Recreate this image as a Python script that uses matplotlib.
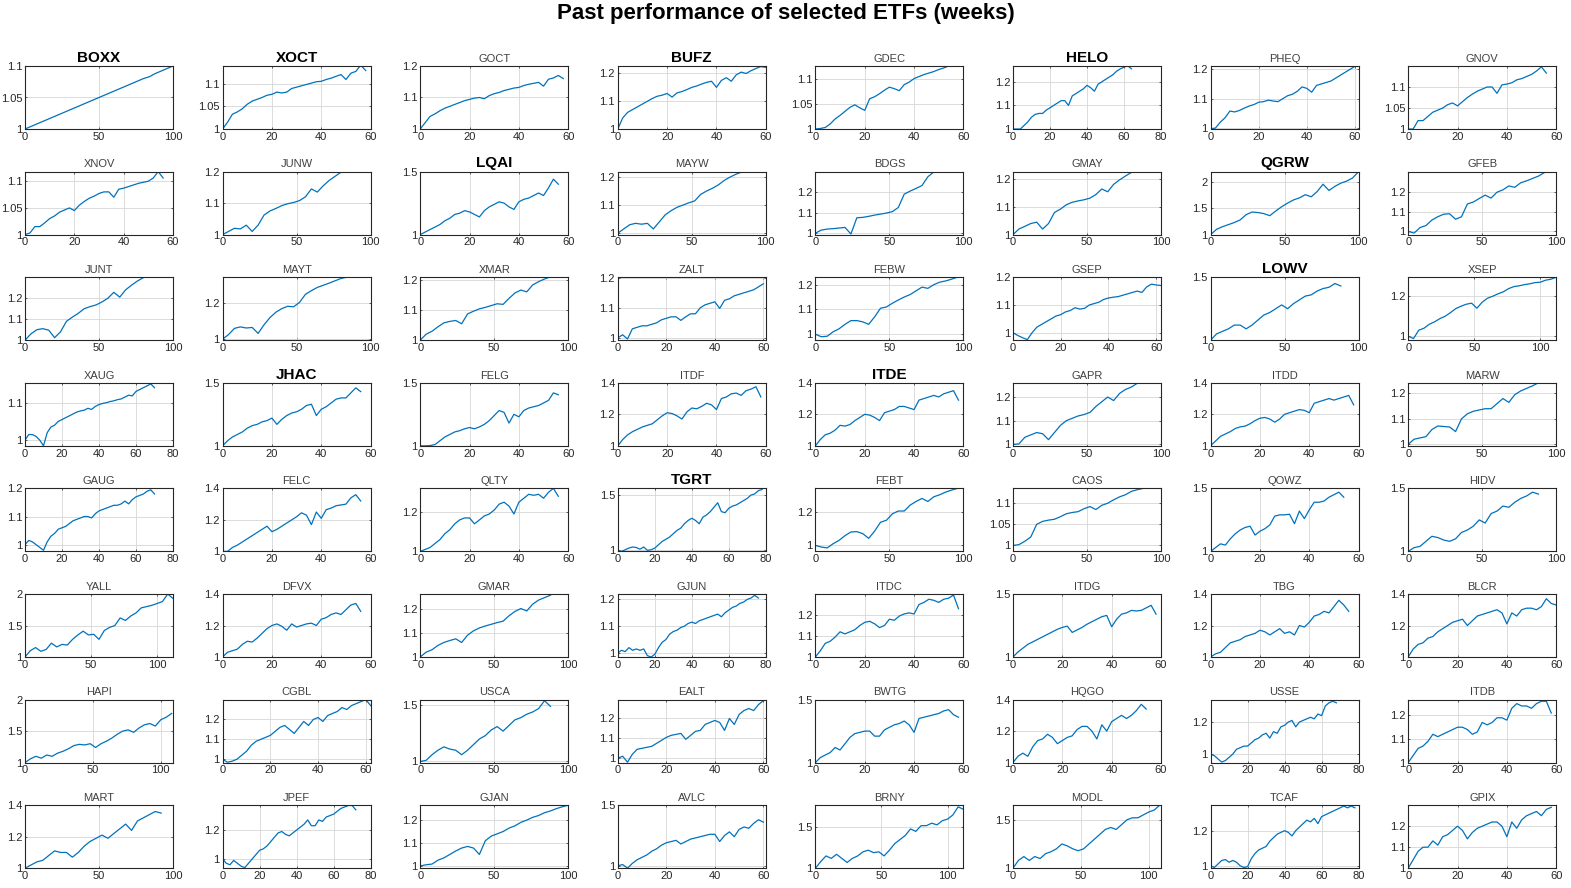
import numpy as np
import matplotlib
matplotlib.use("Agg")
import matplotlib.pyplot as plt
from matplotlib.ticker import FormatStrFormatter

# Weekly growth of 1 unit invested at every `step` weeks
boxx = [1.000, 1.004, 1.008, 1.012, 1.016, 1.020, 1.024, 1.028, 1.032, 1.036, 1.040, 1.044, 1.048,
        1.052, 1.056, 1.060, 1.064, 1.068, 1.072, 1.076, 1.080, 1.083, 1.088, 1.092, 1.096, 1.100]
xoct = [1.000, 1.015, 1.033, 1.038, 1.045, 1.055, 1.062, 1.066, 1.070, 1.075, 1.077, 1.082, 1.080, 1.082, 1.090,
        1.093, 1.096, 1.099, 1.102, 1.105, 1.106, 1.110, 1.113, 1.117, 1.121, 1.110, 1.124, 1.128, 1.142, 1.130]
goct = [1.000, 1.020, 1.040, 1.048, 1.058, 1.066, 1.072, 1.078, 1.084, 1.090, 1.094, 1.098, 1.100, 1.096, 1.106,
        1.112, 1.116, 1.122, 1.126, 1.130, 1.132, 1.138, 1.142, 1.145, 1.148, 1.136, 1.158, 1.162, 1.170, 1.160]
bufz = [1.000, 1.040, 1.060, 1.070, 1.080, 1.090, 1.100, 1.110, 1.118, 1.122, 1.128, 1.115, 1.130, 1.135, 1.142, 1.150,
        1.155, 1.162, 1.168, 1.172, 1.150, 1.175, 1.185, 1.172, 1.195, 1.205, 1.200, 1.210, 1.218, 1.225, 1.222]
gdec = [1.000, 1.001, 1.003, 1.010, 1.020, 1.027, 1.035, 1.043, 1.048, 1.042, 1.037, 1.060, 1.064, 1.070,
        1.077, 1.083, 1.080, 1.076, 1.088, 1.093, 1.100, 1.104, 1.108, 1.111, 1.114, 1.118, 1.121, 1.125]
helo = [1.000, 1.000, 1.000, 1.015, 1.030, 1.050, 1.062, 1.066, 1.066, 1.080, 1.090, 1.100, 1.110, 1.120, 1.120, 1.100, 1.140,
        1.150, 1.160, 1.170, 1.185, 1.175, 1.160, 1.190, 1.200, 1.210, 1.220, 1.230, 1.245, 1.255, 1.262, 1.268, 1.255]
pheq = [0.998, 1.000, 1.020, 1.035, 1.058, 1.055, 1.060, 1.068, 1.075, 1.080, 1.088, 1.090, 1.095, 1.092, 1.090, 1.100,
        1.110, 1.115, 1.125, 1.140, 1.135, 1.122, 1.145, 1.150, 1.155, 1.160, 1.170, 1.180, 1.190, 1.200, 1.210]
gnov = [1.000, 1.000, 1.020, 1.020, 1.030, 1.040, 1.045, 1.050, 1.058, 1.062, 1.055, 1.065, 1.075, 1.083, 1.090,
        1.095, 1.100, 1.100, 1.085, 1.105, 1.107, 1.110, 1.117, 1.120, 1.125, 1.130, 1.138, 1.148, 1.133]

xnov = [1.000, 1.003, 1.015, 1.015, 1.022, 1.030, 1.035, 1.042, 1.046, 1.050, 1.045, 1.055, 1.062, 1.068, 1.072,
        1.077, 1.080, 1.080, 1.070, 1.085, 1.087, 1.090, 1.093, 1.096, 1.098, 1.100, 1.106, 1.118, 1.106]
junw = [1.000, 1.010, 1.020, 1.018, 1.030, 1.010, 1.030, 1.062, 1.075, 1.083, 1.092, 1.098, 1.102, 1.108, 1.120,
        1.145, 1.135, 1.155, 1.172, 1.185, 1.198]
lqai = [1.00, 1.02, 1.04, 1.06, 1.08, 1.11, 1.13, 1.16, 1.17, 1.19, 1.18, 1.16, 1.14, 1.19, 1.22,
        1.24, 1.26, 1.25, 1.22, 1.20, 1.26, 1.28, 1.29, 1.31, 1.33, 1.31, 1.37, 1.44, 1.40]
mayw = [1.000, 1.015, 1.030, 1.035, 1.032, 1.035, 1.015, 1.040, 1.065, 1.080, 1.092, 1.100, 1.108, 1.115, 1.138,
        1.150, 1.160, 1.172, 1.188, 1.200, 1.210, 1.218]
bdgs = [1.000, 1.015, 1.020, 1.022, 1.025, 1.028, 0.996, 1.075, 1.077, 1.082, 1.088, 1.093, 1.098, 1.105, 1.125,
        1.190, 1.205, 1.218, 1.232, 1.275, 1.298]
gmay = [1.000, 1.020, 1.030, 1.040, 1.045, 1.020, 1.040, 1.080, 1.092, 1.108, 1.117, 1.122, 1.126, 1.132, 1.145,
        1.165, 1.155, 1.182, 1.198, 1.212, 1.225]
qgrw = [1.00, 1.10, 1.15, 1.19, 1.23, 1.28, 1.38, 1.43, 1.42, 1.40, 1.36, 1.45, 1.53, 1.60, 1.66, 1.70, 1.76,
        1.72, 1.82, 1.96, 1.84, 1.92, 1.98, 2.02, 2.08, 2.20]
gfeb = [1.000, 0.992, 1.020, 1.030, 1.058, 1.075, 1.088, 1.090, 1.062, 1.075, 1.140, 1.150, 1.168, 1.185, 1.170,
        1.200, 1.212, 1.232, 1.225, 1.248, 1.258, 1.270, 1.282, 1.300]

junt = [1.000, 1.030, 1.050, 1.055, 1.048, 1.012, 1.040, 1.090, 1.110, 1.128, 1.150, 1.160, 1.168, 1.182, 1.200,
        1.228, 1.205, 1.240, 1.262, 1.282, 1.298]
mayt = [1.000, 1.025, 1.060, 1.068, 1.062, 1.065, 1.032, 1.080, 1.120, 1.150, 1.170, 1.183, 1.180, 1.205, 1.250,
        1.270, 1.288, 1.300, 1.312, 1.325, 1.338, 1.345]
xmar = [1.000, 1.020, 1.030, 1.045, 1.058, 1.063, 1.066, 1.055, 1.088, 1.097, 1.105, 1.110, 1.116, 1.122, 1.120,
        1.140, 1.158, 1.168, 1.162, 1.185, 1.196, 1.205, 1.212]
zalt = [1.000, 1.010, 0.996, 1.030, 1.035, 1.040, 1.040, 1.045, 1.050, 1.060, 1.065, 1.070, 1.070, 1.058, 1.070, 1.080,
        1.080, 1.100, 1.110, 1.115, 1.120, 1.098, 1.125, 1.130, 1.140, 1.145, 1.150, 1.155, 1.160, 1.170, 1.180]
febw = [1.000, 0.990, 0.992, 1.010, 1.022, 1.040, 1.055, 1.055, 1.050, 1.040, 1.070, 1.105, 1.110, 1.125, 1.138,
        1.150, 1.160, 1.175, 1.190, 1.185, 1.200, 1.210, 1.215, 1.222, 1.230]
gsep = [1.000, 0.990, 0.982, 0.975, 1.000, 1.020, 1.030, 1.040, 1.050, 1.060, 1.065, 1.075, 1.080, 1.090, 1.085, 1.088,
        1.100, 1.105, 1.110, 1.120, 1.125, 1.128, 1.130, 1.135, 1.140, 1.145, 1.150, 1.145, 1.165, 1.175, 1.172, 1.170]
lowv = [1.00, 1.05, 1.07, 1.09, 1.12, 1.12, 1.09, 1.12, 1.16, 1.20, 1.22, 1.25, 1.28, 1.25, 1.29, 1.32,
        1.35, 1.36, 1.39, 1.41, 1.42, 1.45, 1.43]
xsep = [1.000, 0.988, 1.030, 1.040, 1.060, 1.072, 1.088, 1.100, 1.118, 1.138, 1.150, 1.160, 1.165, 1.140, 1.170,
        1.190, 1.200, 1.212, 1.222, 1.238, 1.248, 1.252, 1.258, 1.262, 1.268, 1.270, 1.280, 1.285, 1.295]

xaug = [1.000, 1.015, 1.015, 1.010, 1.000, 0.985, 1.020, 1.035, 1.040, 1.050, 1.055, 1.060, 1.065, 1.070, 1.075, 1.078,
        1.080, 1.085, 1.082, 1.090, 1.095, 1.098, 1.100, 1.103, 1.105, 1.108, 1.110, 1.115, 1.120, 1.118, 1.130,
        1.135, 1.140, 1.145, 1.150, 1.140]
jhac = [1.00, 1.04, 1.07, 1.09, 1.11, 1.14, 1.16, 1.17, 1.19, 1.20, 1.22, 1.17, 1.21, 1.24, 1.26,
        1.27, 1.29, 1.32, 1.33, 1.24, 1.29, 1.31, 1.34, 1.37, 1.38, 1.38, 1.42, 1.46, 1.43]
felg = [1.000, 1.000, 1.002, 1.010, 1.040, 1.070, 1.090, 1.110, 1.120, 1.135, 1.145, 1.135, 1.150, 1.170, 1.200,
        1.240, 1.280, 1.265, 1.180, 1.250, 1.230, 1.280, 1.300, 1.310, 1.320, 1.340, 1.360, 1.420, 1.405]
itdf = [1.000, 1.040, 1.070, 1.090, 1.105, 1.120, 1.130, 1.140, 1.165, 1.190, 1.210, 1.205, 1.190, 1.170, 1.215,
        1.240, 1.235, 1.250, 1.270, 1.260, 1.230, 1.300, 1.310, 1.330, 1.335, 1.320, 1.350, 1.360, 1.375, 1.310]
itde = [1.000, 1.040, 1.070, 1.080, 1.100, 1.130, 1.125, 1.135, 1.160, 1.180, 1.200, 1.195, 1.180, 1.160, 1.210,
        1.220, 1.230, 1.250, 1.250, 1.240, 1.230, 1.290, 1.300, 1.310, 1.320, 1.310, 1.330, 1.340, 1.350, 1.290]
gapr = [1.000, 1.002, 1.030, 1.040, 1.050, 1.045, 1.020, 1.050, 1.080, 1.100, 1.110, 1.120, 1.126, 1.135, 1.160,
        1.180, 1.200, 1.185, 1.215, 1.232, 1.242, 1.258]
itdd = [1.000, 1.030, 1.060, 1.075, 1.090, 1.110, 1.120, 1.125, 1.140, 1.160, 1.175, 1.180, 1.170, 1.150, 1.170,
        1.200, 1.210, 1.220, 1.230, 1.225, 1.210, 1.270, 1.280, 1.290, 1.300, 1.290, 1.300, 1.310, 1.320, 1.260]
marw = [1.000, 1.020, 1.025, 1.030, 1.058, 1.072, 1.070, 1.068, 1.050, 1.100, 1.120, 1.130, 1.135, 1.140, 1.140,
        1.160, 1.180, 1.165, 1.195, 1.210, 1.220, 1.230, 1.242]

gaug = [1.000, 1.015, 1.010, 1.000, 0.990, 0.980, 1.010, 1.030, 1.040, 1.055, 1.060, 1.065, 1.075, 1.085, 1.090, 1.095,
        1.100, 1.100, 1.095, 1.110, 1.120, 1.125, 1.130, 1.135, 1.140, 1.140, 1.145, 1.155, 1.145, 1.160, 1.170,
        1.175, 1.180, 1.190, 1.195, 1.180]
felc = [1.000, 1.000, 1.025, 1.040, 1.060, 1.080, 1.100, 1.120, 1.140, 1.160, 1.125, 1.140, 1.160, 1.180, 1.200,
        1.220, 1.245, 1.230, 1.170, 1.250, 1.210, 1.265, 1.275, 1.290, 1.295, 1.300, 1.340, 1.360, 1.320]
qlty = [1.000, 1.010, 1.020, 1.040, 1.060, 1.090, 1.110, 1.140, 1.160, 1.170, 1.170, 1.140, 1.160, 1.180, 1.190,
        1.210, 1.240, 1.250, 1.230, 1.190, 1.250, 1.270, 1.290, 1.285, 1.290, 1.270, 1.300, 1.320, 1.280]
tgrt = [1.000, 0.990, 1.005, 1.020, 1.030, 1.025, 1.010, 1.030, 1.000, 1.005, 1.020, 1.050, 1.080, 1.100, 1.120,
        1.150, 1.180, 1.200, 1.240, 1.270, 1.290, 1.270, 1.240, 1.300, 1.320, 1.350, 1.390, 1.430, 1.350, 1.340,
        1.380, 1.400, 1.410, 1.430, 1.450, 1.470, 1.500, 1.510, 1.540, 1.550]
febt = [1.000, 0.990, 0.985, 1.010, 1.030, 1.058, 1.080, 1.082, 1.070, 1.042, 1.085, 1.138, 1.150, 1.188, 1.205,
        1.205, 1.240, 1.262, 1.280, 1.262, 1.290, 1.302, 1.318, 1.330, 1.340]
caos = [1.000, 1.002, 1.010, 1.020, 1.050, 1.057, 1.060, 1.062, 1.068, 1.075, 1.078, 1.080, 1.087, 1.092, 1.085,
        1.095, 1.100, 1.108, 1.115, 1.120, 1.128, 1.132, 1.135]
qowz = [1.000, 1.030, 1.060, 1.050, 1.100, 1.140, 1.170, 1.190, 1.200, 1.130, 1.160, 1.180, 1.210, 1.280,
        1.290, 1.290, 1.295, 1.220, 1.320, 1.260, 1.330, 1.390, 1.390, 1.400, 1.430, 1.450, 1.470, 1.430]
hidv = [1.000, 1.030, 1.040, 1.080, 1.120, 1.110, 1.090, 1.080, 1.100, 1.150, 1.170, 1.200, 1.250, 1.225, 1.300,
        1.320, 1.360, 1.350, 1.390, 1.420, 1.440, 1.470, 1.455]

yall = [1.00, 1.10, 1.15, 1.09, 1.12, 1.22, 1.16, 1.20, 1.19, 1.28, 1.35, 1.41, 1.35, 1.36, 1.28, 1.42, 1.47,
        1.50, 1.62, 1.58, 1.65, 1.70, 1.78, 1.80, 1.82, 1.85, 1.88, 2.00, 1.93]
dfvx = [1.000, 1.030, 1.040, 1.050, 1.080, 1.100, 1.095, 1.120, 1.150, 1.180, 1.200, 1.210, 1.195, 1.170, 1.210,
        1.190, 1.200, 1.210, 1.215, 1.200, 1.240, 1.250, 1.270, 1.280, 1.270, 1.300, 1.330, 1.340, 1.290]
gmar = [1.000, 1.020, 1.030, 1.048, 1.060, 1.068, 1.075, 1.060, 1.090, 1.108, 1.120, 1.128, 1.135, 1.142, 1.148,
        1.170, 1.188, 1.200, 1.190, 1.218, 1.235, 1.245, 1.255]
gjun = [1.000, 1.010, 1.005, 1.020, 1.010, 1.015, 1.010, 1.015, 0.990, 0.985, 0.995, 1.020, 1.040, 1.050, 1.070, 1.080,
        1.085, 1.095, 1.100, 1.110, 1.115, 1.110, 1.120, 1.125, 1.130, 1.135, 1.140, 1.145, 1.135, 1.150, 1.160,
        1.170, 1.175, 1.185, 1.190, 1.200, 1.205, 1.215, 1.205]
itdc = [1.000, 1.030, 1.065, 1.075, 1.095, 1.120, 1.110, 1.120, 1.130, 1.150, 1.165, 1.170, 1.158, 1.140, 1.150,
        1.180, 1.175, 1.195, 1.205, 1.210, 1.205, 1.250, 1.260, 1.275, 1.270, 1.260, 1.275, 1.280, 1.295, 1.230]
itdg = [1.000, 1.040, 1.070, 1.100, 1.120, 1.140, 1.160, 1.180, 1.200, 1.220, 1.235, 1.245, 1.195, 1.215, 1.235,
        1.260, 1.280, 1.300, 1.320, 1.330, 1.240, 1.300, 1.340, 1.350, 1.370, 1.365, 1.370, 1.390, 1.410, 1.340]
tbg = [1.00, 1.02, 1.03, 1.06, 1.09, 1.10, 1.11, 1.13, 1.14, 1.15, 1.17, 1.16, 1.14, 1.16, 1.18,
       1.15, 1.16, 1.14, 1.20, 1.19, 1.22, 1.26, 1.27, 1.29, 1.28, 1.32, 1.36, 1.33, 1.29]
blcr = [1.00, 1.05, 1.08, 1.09, 1.12, 1.13, 1.16, 1.18, 1.20, 1.22, 1.23, 1.24, 1.20, 1.23, 1.26, 1.27,
        1.28, 1.29, 1.30, 1.28, 1.21, 1.28, 1.26, 1.30, 1.31, 1.31, 1.30, 1.32, 1.37, 1.34, 1.33]

hapi = [1.00, 1.06, 1.10, 1.07, 1.12, 1.10, 1.15, 1.18, 1.22, 1.27, 1.29, 1.28, 1.30, 1.24, 1.30, 1.34,
        1.39, 1.45, 1.50, 1.52, 1.48, 1.55, 1.60, 1.62, 1.58, 1.68, 1.72, 1.78]
cgbl = [1.000, 0.985, 0.990, 1.000, 1.020, 1.040, 1.070, 1.090, 1.100, 1.110, 1.120, 1.140, 1.160, 1.170, 1.150, 1.130,
        1.160, 1.190, 1.170, 1.200, 1.210, 1.190, 1.220, 1.230, 1.240, 1.260, 1.250, 1.270, 1.280, 1.290, 1.300, 1.270]
usca = [1.00, 1.01, 1.06, 1.10, 1.13, 1.11, 1.10, 1.06, 1.10, 1.15, 1.20, 1.23, 1.28, 1.31, 1.27, 1.32,
        1.37, 1.39, 1.42, 1.44, 1.47, 1.54, 1.49]
ealt = [1.000, 1.010, 0.980, 1.020, 1.045, 1.050, 1.055, 1.060, 1.075, 1.090, 1.105, 1.115, 1.120, 1.125, 1.095, 1.115,
        1.135, 1.140, 1.170, 1.180, 1.190, 1.180, 1.140, 1.200, 1.170, 1.220, 1.240, 1.250, 1.240, 1.270, 1.290]
bwtg = [1.00, 1.04, 1.06, 1.08, 1.12, 1.10, 1.15, 1.20, 1.23, 1.24, 1.25, 1.25, 1.21, 1.21, 1.26,
        1.28, 1.30, 1.31, 1.33, 1.30, 1.24, 1.35, 1.36, 1.37, 1.38, 1.39, 1.41, 1.42, 1.38, 1.36]
hqgo = [1.000, 1.040, 1.060, 1.040, 1.100, 1.140, 1.150, 1.180, 1.160, 1.120, 1.140, 1.160, 1.170, 1.210,
        1.230, 1.230, 1.200, 1.150, 1.240, 1.200, 1.260, 1.280, 1.300, 1.280, 1.300, 1.330, 1.370, 1.340]
usse = [1.00, 0.99, 0.97, 0.95, 0.96, 0.98, 1.00, 1.03, 1.04, 1.05, 1.05, 1.07, 1.09, 1.10, 1.12, 1.13, 1.10, 1.14,
        1.13, 1.17, 1.18, 1.20, 1.21, 1.17, 1.20, 1.21, 1.22, 1.23, 1.22, 1.25, 1.24, 1.30, 1.32, 1.33, 1.32]
itdb = [1.000, 1.030, 1.060, 1.070, 1.090, 1.120, 1.110, 1.120, 1.130, 1.140, 1.150, 1.150, 1.140, 1.120, 1.130,
        1.170, 1.160, 1.170, 1.190, 1.190, 1.180, 1.230, 1.250, 1.240, 1.240, 1.230, 1.250, 1.260, 1.260, 1.210]

mart = [1.000, 1.020, 1.040, 1.050, 1.080, 1.110, 1.100, 1.100, 1.070, 1.100, 1.140, 1.170, 1.190, 1.210, 1.190,
        1.220, 1.250, 1.280, 1.240, 1.300, 1.320, 1.340, 1.360, 1.350]
jpef = [1.00, 0.97, 0.96, 0.99, 0.97, 0.95, 0.94, 0.97, 1.00, 1.03, 1.06, 1.07, 1.09, 1.12, 1.15, 1.18, 1.19, 1.17, 1.16,
        1.18, 1.20, 1.22, 1.24, 1.27, 1.23, 1.23, 1.27, 1.26, 1.29, 1.30, 1.31, 1.33, 1.35, 1.36, 1.37, 1.37, 1.34]
gjan = [1.000, 1.005, 1.008, 1.025, 1.035, 1.050, 1.065, 1.078, 1.085, 1.078, 1.050, 1.110, 1.130, 1.140, 1.150,
        1.165, 1.175, 1.190, 1.200, 1.212, 1.220, 1.232, 1.240, 1.250, 1.258, 1.265]
avlc = [1.00, 1.01, 0.98, 1.02, 1.05, 1.07, 1.09, 1.12, 1.14, 1.17, 1.19, 1.20, 1.21, 1.18, 1.20, 1.22,
        1.23, 1.24, 1.25, 1.26, 1.26, 1.20, 1.25, 1.28, 1.24, 1.30, 1.32, 1.31, 1.35, 1.38, 1.36]
brny = [1.00, 1.08, 1.15, 1.12, 1.17, 1.12, 1.07, 1.12, 1.15, 1.20, 1.22, 1.19, 1.20, 1.15, 1.22, 1.30,
        1.35, 1.40, 1.48, 1.45, 1.52, 1.52, 1.55, 1.53, 1.58, 1.60, 1.65, 1.75, 1.72]
modl = [1.00, 1.08, 1.12, 1.08, 1.12, 1.10, 1.15, 1.17, 1.20, 1.25, 1.23, 1.20, 1.18, 1.20, 1.25, 1.30,
        1.35, 1.40, 1.42, 1.40, 1.45, 1.50, 1.52, 1.52, 1.55, 1.58, 1.60, 1.65]
tcaf = [1.000, 0.990, 1.010, 1.030, 1.035, 1.020, 1.030, 1.020, 1.000, 0.990, 0.995, 1.040, 1.070, 1.090, 1.100,
        1.110, 1.140, 1.160, 1.180, 1.190, 1.200, 1.190, 1.170, 1.200, 1.220, 1.240, 1.260, 1.250, 1.270, 1.240,
        1.280, 1.290, 1.300, 1.310, 1.320, 1.330, 1.340, 1.330, 1.340, 1.330]
gpix = [1.00, 1.04, 1.08, 1.10, 1.10, 1.13, 1.11, 1.15, 1.16, 1.18, 1.20, 1.18, 1.14, 1.17, 1.19,
        1.20, 1.21, 1.22, 1.22, 1.20, 1.15, 1.22, 1.19, 1.23, 1.25, 1.26, 1.27, 1.25, 1.28, 1.29]

tickers = ["BOXX", "XOCT", "GOCT", "BUFZ", "GDEC", "HELO", "PHEQ", "GNOV",
           "XNOV", "JUNW", "LQAI", "MAYW", "BDGS", "GMAY", "QGRW", "GFEB",
           "JUNT", "MAYT", "XMAR", "ZALT", "FEBW", "GSEP", "LOWV", "XSEP",
           "XAUG", "JHAC", "FELG", "ITDF", "ITDE", "GAPR", "ITDD", "MARW",
           "GAUG", "FELC", "QLTY", "TGRT", "FEBT", "CAOS", "QOWZ", "HIDV",
           "YALL", "DFVX", "GMAR", "GJUN", "ITDC", "ITDG", "TBG", "BLCR",
           "HAPI", "CGBL", "USCA", "EALT", "BWTG", "HQGO", "USSE", "ITDB",
           "MART", "JPEF", "GJAN", "AVLC", "BRNY", "MODL", "TCAF", "GPIX"]
series = [boxx, xoct, goct, bufz, gdec, helo, pheq, gnov,
          xnov, junw, lqai, mayw, bdgs, gmay, qgrw, gfeb,
          junt, mayt, xmar, zalt, febw, gsep, lowv, xsep,
          xaug, jhac, felg, itdf, itde, gapr, itdd, marw,
          gaug, felc, qlty, tgrt, febt, caos, qowz, hidv,
          yall, dfvx, gmar, gjun, itdc, itdg, tbg, blcr,
          hapi, cgbl, usca, ealt, bwtg, hqgo, usse, itdb,
          mart, jpef, gjan, avlc, brny, modl, tcaf, gpix]
highlighted = {"BOXX", "XOCT", "BUFZ", "HELO", "LQAI", "QGRW", "LOWV", "JHAC", "ITDE", "TGRT"}

# weeks between stored samples
steps = [4, 2, 2, 2, 2, 2, 2, 2,
         2, 4, 2, 4, 4, 4, 4, 4,
         4, 4, 4, 2, 4, 2, 4, 4,
         2, 2, 2, 2, 2, 4, 2, 4,
         2, 2, 2, 2, 4, 4, 2, 4,
         4, 2, 4, 2, 2, 2, 2, 2,
         4, 2, 4, 2, 2, 2, 2, 2,
         4, 2, 4, 2, 4, 4, 2, 2]
xmax = [100, 60, 60, 60, 60, 80, 61.5, 60,
        60, 100, 60, 100, 100, 100, 100, 100,
        100, 100, 100, 61, 100, 62, 100, 112,
        80, 60, 60, 60, 60, 100, 60, 100,
        80, 60, 60, 80, 100, 100, 60, 100,
        112, 60, 100, 80, 60, 60, 60, 60,
        109, 62, 100, 61, 60, 60, 80, 60,
        100, 80, 100, 61, 112, 109, 80, 60]
ylims = [(1, 1.1), (1, 1.14), (1, 1.2), (1, 1.227), (1, 1.125), (1, 1.267), (0.997, 1.211), (1, 1.15),
         (1, 1.118), (1, 1.2), (1, 1.5), (0.995, 1.219), (0.993, 1.3), (1, 1.228), (1, 2.2), (0.984, 1.305),
         (1, 1.3), (0.994, 1.345), (1, 1.211), (0.992, 1.202), (0.976, 1.23), (0.973, 1.2), (1, 1.5), (0.98, 1.295),
         (0.985, 1.153), (1, 1.5), (1, 1.5), (1, 1.4), (1, 1.4), (0.994, 1.26), (1, 1.4), (0.994, 1.242),
         (0.976, 1.2), (1, 1.4), (1, 1.32), (0.99, 1.56), (0.964, 1.34), (0.986, 1.135), (1, 1.5), (1, 1.5),
         (1, 2.0), (1, 1.4), (1, 1.26), (0.985, 1.22), (1, 1.3), (1, 1.5), (1, 1.4), (1, 1.4),
         (1, 2.0), (0.983, 1.3), (0.99, 1.55), (0.978, 1.295), (1, 1.5), (1, 1.4), (0.947, 1.34), (1, 1.267),
         (1, 1.4), (0.936, 1.372), (0.99, 1.265), (0.98, 1.5), (1, 1.77), (1, 1.65), (0.986, 1.345), (1, 1.3)]
yticks = [[1, 1.05, 1.1], [1, 1.05, 1.1], [1, 1.1, 1.2], [1, 1.1, 1.2], [1, 1.05, 1.1], [1, 1.1, 1.2], [1, 1.1, 1.2], [1, 1.05, 1.1],
          [1, 1.05, 1.1], [1, 1.1, 1.2], [1, 1.5], [1, 1.1, 1.2], [1, 1.1, 1.2], [1, 1.1, 1.2], [1, 1.5, 2], [1, 1.1, 1.2],
          [1, 1.1, 1.2], [1, 1.2], [1, 1.1, 1.2], [1, 1.1, 1.2], [1, 1.1, 1.2], [1, 1.1, 1.2], [1, 1.5], [1, 1.2],
          [1, 1.1], [1, 1.5], [1, 1.5], [1, 1.2, 1.4], [1, 1.2, 1.4], [1, 1.1, 1.2], [1, 1.2, 1.4], [1, 1.1, 1.2],
          [1, 1.1, 1.2], [1, 1.2, 1.4], [1, 1.2], [1, 1.5], [1, 1.2], [1, 1.05, 1.1], [1, 1.5], [1, 1.5],
          [1, 1.5, 2], [1, 1.2, 1.4], [1, 1.1, 1.2], [1, 1.1, 1.2], [1, 1.1, 1.2], [1, 1.5], [1, 1.2, 1.4], [1, 1.2, 1.4],
          [1, 1.5, 2], [1, 1.1, 1.2], [1, 1.5], [1, 1.1, 1.2], [1, 1.5], [1, 1.2, 1.4], [1, 1.2], [1, 1.1, 1.2],
          [1, 1.2, 1.4], [1, 1.2], [1, 1.1, 1.2], [1, 1.5], [1, 1.5], [1, 1.5], [1, 1.2], [1, 1.1, 1.2]]

plt.rcParams["font.family"] = ["Liberation Sans", "DejaVu Sans"]

W, H = 1571, 888
fig = plt.figure(figsize=(W / 100, H / 100), dpi=100)
fig.text(0.5, 1 - 13 / H, "Past performance of selected ETFs (weeks)",
         ha="center", va="center", fontsize=16, fontweight="bold")

line_color = "#0072BD"
for k, (name, vals) in enumerate(zip(tickers, series)):
    row, col = divmod(k, 8)
    left = 25 + col * 197.6
    top = 66 + row * 105.6
    ax = fig.add_axes([left / W, 1 - (top + 63) / H, 148 / W, 63 / H])
    x = np.arange(len(vals)) * steps[k]
    ax.plot(x, vals, color=line_color, lw=0.9)
    ax.set_xlim(0, xmax[k])
    ax.set_ylim(*ylims[k])
    xstep = 50 if xmax[k] >= 90 else 20
    ax.set_xticks(np.arange(0, xmax[k] + 0.5, xstep))
    ax.set_yticks(yticks[k])
    ax.yaxis.set_major_formatter(FormatStrFormatter("%g"))
    ax.grid(True, color="#d6d6d6", lw=0.6)
    ax.set_axisbelow(True)
    ax.tick_params(direction="in", length=1.5, width=0.5, labelsize=8, colors="#262626",
                   pad=2, top=True, right=True)
    for sp in ax.spines.values():
        sp.set_color("#262626")
        sp.set_linewidth(0.8)
    if name in highlighted:
        ax.set_title(name, fontsize=11, fontweight="bold", color="black", pad=3)
    else:
        ax.set_title(name, fontsize=8, color="#404040", pad=3)

fig.savefig("out.png", dpi=100)
